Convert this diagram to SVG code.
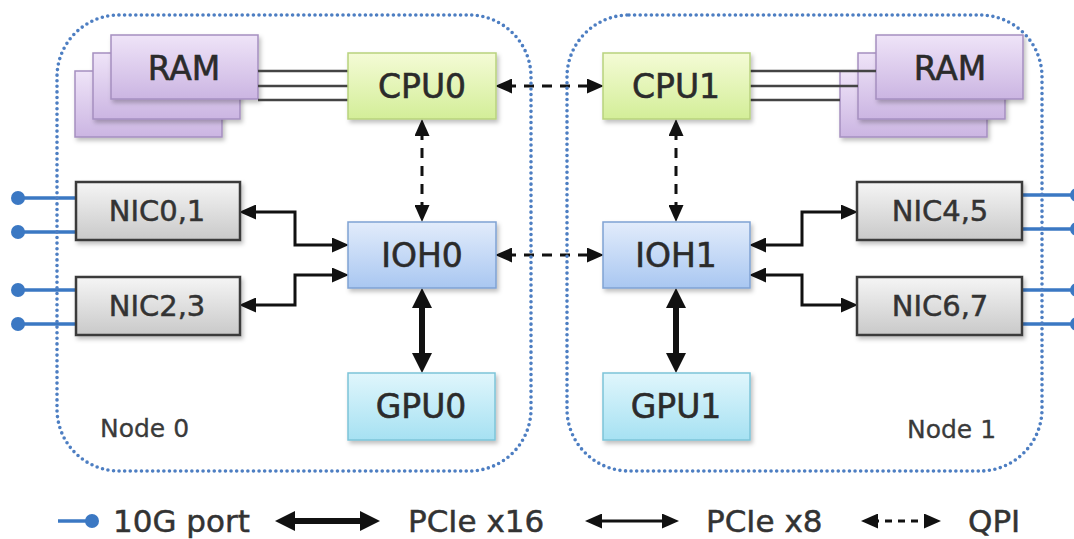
<svg xmlns="http://www.w3.org/2000/svg" width="1074" height="539" viewBox="0 0 1074 539">
<defs>
<linearGradient id="gRam" x1="0" y1="0" x2="0" y2="1"><stop offset="0" stop-color="#efe4f8"/><stop offset="1" stop-color="#cbb5e2"/></linearGradient>
<linearGradient id="gCpu" x1="0" y1="0" x2="0" y2="1"><stop offset="0" stop-color="#f4fbd6"/><stop offset="1" stop-color="#d3ee98"/></linearGradient>
<linearGradient id="gIoh" x1="0" y1="0" x2="0" y2="1"><stop offset="0" stop-color="#e2ecfb"/><stop offset="1" stop-color="#a9c7f1"/></linearGradient>
<linearGradient id="gGpu" x1="0" y1="0" x2="0" y2="1"><stop offset="0" stop-color="#e0f6fc"/><stop offset="1" stop-color="#a6e1f2"/></linearGradient>
<linearGradient id="gNic" x1="0" y1="0" x2="0" y2="1"><stop offset="0" stop-color="#f5f5f5"/><stop offset="1" stop-color="#c9c9c9"/></linearGradient>
<filter id="sh" x="-10%" y="-10%" width="130%" height="140%"><feDropShadow dx="2" dy="3" stdDeviation="2" flood-color="#000" flood-opacity="0.25"/></filter>
<marker id="aT" viewBox="0 0 17 15" refX="6" refY="7.5" markerWidth="17" markerHeight="15" markerUnits="userSpaceOnUse" orient="auto-start-reverse"><path d="M0,0 L17,7.5 L0,15 z" fill="#111"/></marker>
<marker id="aK" viewBox="0 0 20 20" refX="8" refY="10" markerWidth="20" markerHeight="20" markerUnits="userSpaceOnUse" orient="auto-start-reverse"><path d="M0,0 L20,10 L0,20 z" fill="#111"/></marker>
</defs>
<style>
.ram{fill:url(#gRam);stroke:#a58fc0;stroke-width:1.5;filter:url(#sh)}
.cpu{fill:url(#gCpu);stroke:#b8d27e;stroke-width:1.5;filter:url(#sh)}
.ioh{fill:url(#gIoh);stroke:#7fa2d3;stroke-width:1.5;filter:url(#sh)}
.gpu{fill:url(#gGpu);stroke:#7cc4d8;stroke-width:1.5;filter:url(#sh)}
.nic{fill:url(#gNic);stroke:#3a3a3a;stroke-width:2.5;filter:url(#sh)}
.lbl{font-family:"DejaVu Sans",Verdana,sans-serif;font-size:33px;fill:#2b2b2b;stroke:#2b2b2b;stroke-width:0.6;text-anchor:middle}
.nlbl{font-family:"DejaVu Sans",Verdana,sans-serif;font-size:29px;fill:#333;stroke:#333;stroke-width:0.5;text-anchor:middle}
.node{font-family:"DejaVu Sans",Verdana,sans-serif;font-size:25px;fill:#3a3a3a;stroke:#3a3a3a;stroke-width:0.3}
.leg{font-family:"DejaVu Sans",Verdana,sans-serif;font-size:31px;fill:#333;stroke:#333;stroke-width:0.5}
.bound{fill:none;stroke:#4d7ec2;stroke-width:3.6;stroke-dasharray:0 5.6;stroke-linecap:round}
.mem{stroke:#444;stroke-width:2.5;fill:none}
.port{stroke:#3b78c3;stroke-width:3.5;fill:none}
.dot{fill:#3b78c3}
.x8{stroke:#111;stroke-width:3;fill:none;marker-start:url(#aT);marker-end:url(#aT)}
.x16{stroke:#111;stroke-width:6;fill:none;marker-start:url(#aK);marker-end:url(#aK)}
.qpi{stroke:#111;stroke-width:3;fill:none;stroke-dasharray:10 8;marker-start:url(#aT);marker-end:url(#aT)}
</style>
<rect width="1074" height="539" fill="#ffffff"/>

<g id="ports">
<path class="port" d="M18,198 H76 M18,232 H76 M18,290 H76 M18,324 H76"/>
<circle class="dot" cx="18" cy="198" r="7"/><circle class="dot" cx="18" cy="232" r="7"/>
<circle class="dot" cx="18" cy="290" r="7"/><circle class="dot" cx="18" cy="324" r="7"/>
<path class="port" d="M1022,195 H1076 M1022,229 H1076 M1022,290 H1076 M1022,324 H1076"/>
<circle class="dot" cx="1077" cy="195" r="7"/><circle class="dot" cx="1077" cy="229" r="7"/>
<circle class="dot" cx="1077" cy="290" r="7"/><circle class="dot" cx="1077" cy="324" r="7"/>
</g>

<g id="ram0">
<rect class="ram" x="75" y="71" width="147" height="66"/>
<rect class="ram" x="93" y="53" width="147" height="66"/>
<rect class="ram" x="111" y="35" width="147" height="64"/>
<text class="lbl" x="184" y="80">RAM</text>
</g>
<g id="ram1">
<rect class="ram" x="840" y="71" width="147" height="66"/>
<rect class="ram" x="858" y="53" width="147" height="66"/>
<rect class="ram" x="876" y="35" width="147" height="64"/>
<text class="lbl" x="950" y="80">RAM</text>
</g>

<g id="connectors">
<path class="mem" d="M258,71 H348 M258,86 H348 M258,100 H348"/>
<path class="mem" d="M750,71 H876 M750,86 H858 M750,100 H840"/>
<path class="qpi" d="M506,86 H593"/>
<path class="qpi" d="M506,255 H593"/>
<path class="qpi" d="M422,130 V211"/>
<path class="qpi" d="M676,130 V211"/>
<path class="x16" d="M422,300 V361"/>
<path class="x16" d="M676,300 V361"/>
<path class="x8" d="M250,212 H295 V245 H338"/>
<path class="x8" d="M250,305 H295 V275 H338"/>
<path class="x8" d="M760,245 H802 V212 H847"/>
<path class="x8" d="M760,275 H802 V305 H847"/>
</g>

<g id="cpu0"><rect class="cpu" x="348" y="53" width="148" height="66"/><text class="lbl" x="422" y="98">CPU0</text></g>
<g id="cpu1"><rect class="cpu" x="603" y="53" width="147" height="66"/><text class="lbl" x="676" y="98">CPU1</text></g>
<g id="ioh0"><rect class="ioh" x="348" y="222" width="148" height="66"/><text class="lbl" x="422" y="267">IOH0</text></g>
<g id="ioh1"><rect class="ioh" x="603" y="222" width="147" height="66"/><text class="lbl" x="676" y="267">IOH1</text></g>
<g id="gpu0"><rect class="gpu" x="348" y="373" width="147" height="67"/><text class="lbl" x="421" y="418">GPU0</text></g>
<g id="gpu1"><rect class="gpu" x="603" y="373" width="147" height="67"/><text class="lbl" x="676" y="418">GPU1</text></g>
<g id="nic01"><rect class="nic" x="76" y="182" width="164" height="58"/><text class="nlbl" x="157" y="221">NIC0,1</text></g>
<g id="nic23"><rect class="nic" x="76" y="277" width="164" height="58"/><text class="nlbl" x="157" y="316">NIC2,3</text></g>
<g id="nic45"><rect class="nic" x="857" y="182" width="165" height="58"/><text class="nlbl" x="940" y="221">NIC4,5</text></g>
<g id="nic67"><rect class="nic" x="857" y="277" width="165" height="58"/><text class="nlbl" x="940" y="316">NIC6,7</text></g>

<g id="node0">
<rect class="bound" x="57" y="15" width="474" height="456" rx="62"/>
<text class="node" x="100" y="437">Node 0</text>
</g>
<g id="node1">
<rect class="bound" x="567" y="15" width="475" height="456" rx="62"/>
<text class="node" x="907" y="438">Node 1</text>
</g>

<g id="legend">
<path class="port" d="M58,521 H90"/><circle class="dot" cx="92" cy="521" r="7"/>
<text class="leg" x="113" y="532">10G port</text>
<path class="x16" d="M287,521 H368"/>
<text class="leg" x="408" y="532">PCIe x16</text>
<path class="x8" d="M596,521 H668"/>
<text class="leg" x="706" y="532">PCIe x8</text>
<path class="qpi" style="stroke-dasharray:7 6" d="M872,521 H930"/>
<text class="leg" x="968" y="532">QPI</text>
</g>
</svg>
